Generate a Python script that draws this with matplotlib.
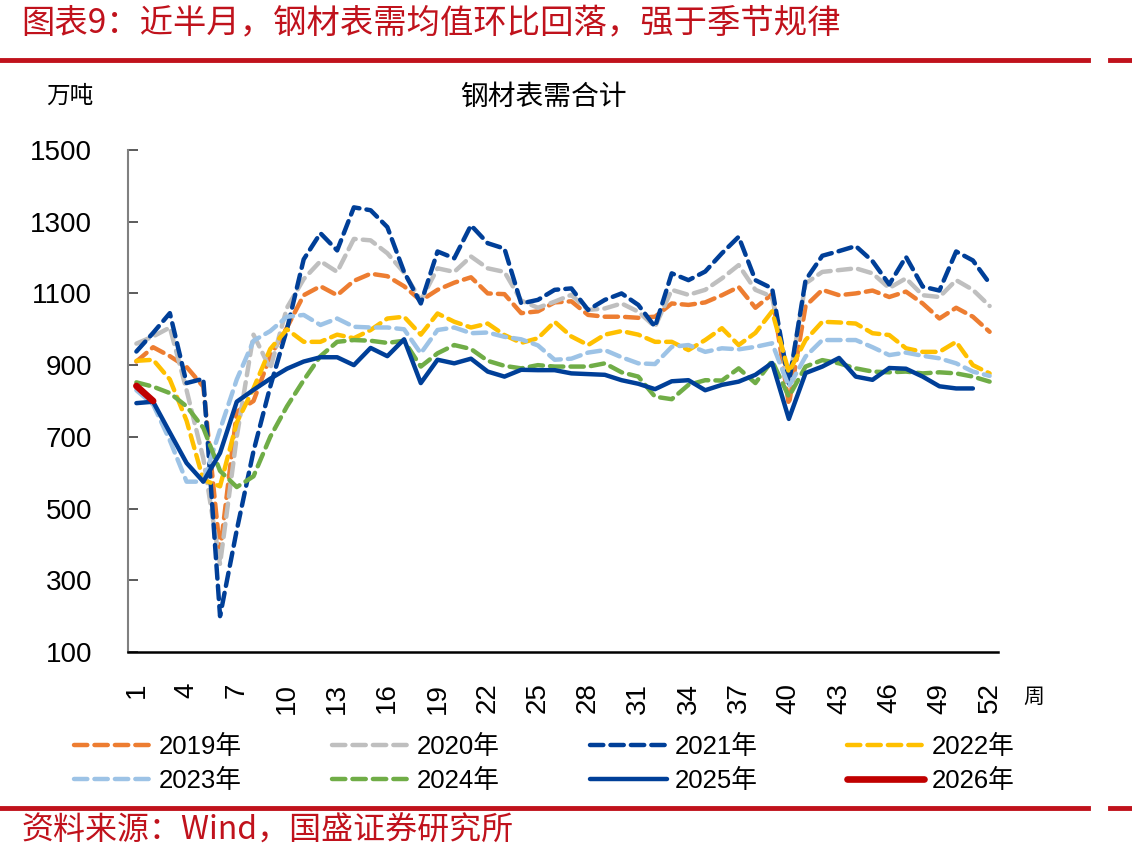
import numpy as np
import matplotlib
matplotlib.use("Agg")
import matplotlib.pyplot as plt
from matplotlib.lines import Line2D

plt.rcParams['font.family'] = ['Liberation Sans', 'Noto Sans CJK SC', 'DejaVu Sans']

# 周度钢材表需（万吨），按周 1..52
weeks = list(range(1, 53))
y2019 = [910, 950, 925, 895, 840, 380, 770, 800, 925, 1005, 1095, 1120, 1095, 1135, 1155, 1148, 1120, 1080,
         1110, 1130, 1145, 1100, 1098, 1045, 1050, 1075, 1078, 1040, 1035, 1035, 1032, 1035, 1072, 1068, 1075,
         1095, 1118, 1060, 1098, 790, 1065, 1110, 1095, 1100, 1108, 1090, 1105, 1072, 1030, 1060, 1035, 993]
y2020 = [960, 980, 1005, 830, 640, 345, 700, 985, 890, 1060, 1140, 1190, 1160, 1252, 1248, 1212, 1158, 1080,
         1170, 1160, 1203, 1170, 1160, 1080, 1060, 1077, 1096, 1054, 1058, 1072, 1049, 1007, 1110, 1096, 1110,
         1142, 1179, 1110, 1091, 849, 1128, 1160, 1165, 1170, 1156, 1115, 1142, 1095, 1090, 1137, 1110, 1065]
y2021 = [938, 990, 1045, 850, 862, 200, 440, 660, 840, 1000, 1195, 1268, 1220, 1340, 1332, 1285, 1160, 1072,
         1217, 1198, 1290, 1240, 1225, 1072, 1082, 1110, 1114, 1054, 1082, 1100, 1068, 1007, 1156, 1137, 1161,
         1212, 1258, 1137, 1114, 849, 1137, 1205, 1218, 1232, 1190, 1125, 1202, 1119, 1108, 1217, 1192, 1128]
y2022 = [912, 915, 860, 745, 580, 562, 740, 835, 945, 1000, 965, 965, 985, 975, 998, 1030, 1035, 985,
         1044, 1021, 1005, 1016, 984, 962, 975, 1021, 980, 956, 985, 995, 985, 965, 965, 942, 970,
         1003, 956, 990, 1050, 880, 970, 1021, 1019, 1016, 989, 984, 947, 937, 937, 965, 900, 877]
y2023 = [830, 790, 690, 575, 575, 720, 860, 968, 995, 1035, 1040, 1012, 1030, 1007, 1005, 1005, 1000, 933,
         998, 1005, 989, 991, 979, 972, 955, 915, 918, 935, 942, 922, 905, 903, 951, 956, 937,
         947, 944, 951, 961, 840, 924, 970, 970, 970, 950, 928, 935, 926, 919, 905, 882, 870]
y2024 = [852, 840, 822, 785, 725, 605, 560, 590, 700, 785, 858, 925, 965, 970, 968, 962, 968, 896,
         933, 956, 945, 912, 898, 891, 900, 896, 896, 896, 905, 880, 868, 812, 805, 845, 858,
         857, 891, 850, 912, 812, 896, 914, 905, 891, 882, 880, 882, 877, 880, 877, 868, 854]
y2025 = [794, 798, 712, 627, 575, 655, 798, 831, 862, 890, 910, 922, 922, 900, 948, 925, 972, 850,
         915, 905, 918, 882, 868, 887, 886, 886, 877, 875, 873, 858, 848, 833, 855, 858, 830,
         845, 854, 873, 906, 750, 878, 896, 920, 868, 859, 892, 890, 868, 841, 835, 835]
y2026 = [842, 800]

series = [
    ('2019年', y2019, '#ED7D31', '--', 3.2),
    ('2020年', y2020, '#BFBFBF', '--', 3.2),
    ('2021年', y2021, '#003F98', '--', 3.2),
    ('2022年', y2022, '#FFC000', '--', 3.2),
    ('2023年', y2023, '#9DC3E6', '--', 3.2),
    ('2024年', y2024, '#70AD47', '--', 3.2),
    ('2025年', y2025, '#003F98', '-', 3.2),
    ('2026年', y2026, '#C00000', '-', 4.8),
]

red = '#C0121C'
fig = plt.figure(figsize=(11.32, 8.63), dpi=100)
ax = fig.add_axes([0.1131, 0.2445, 0.7685, 0.5817])

handles = []
for name, vals, col, ls, lw in series:
    x = weeks[:len(vals)]
    if ls == '--':
        h, = ax.plot(x, vals, color=col, lw=lw, dashes=(3.0, 1.6), dash_capstyle='round', label=name)
    else:
        h, = ax.plot(x, vals, color=col, lw=lw, solid_capstyle='round', label=name)
    handles.append(h)

ax.set_xlim(0.5, 52.5)
ax.set_ylim(100, 1500)
ax.set_yticks(range(100, 1501, 200))
ax.set_xticks(weeks[::3])
ax.set_xticklabels([str(w) for w in weeks[::3]], rotation=90)
ax.tick_params(axis='x', length=0, pad=22, labelsize=20)
ax.tick_params(axis='y', direction='in', length=7, width=1.2, labelsize=20, pad=26, color='#404040')
for s in ['top', 'right']:
    ax.spines[s].set_visible(False)
ax.spines['left'].set_color('#808080')
ax.spines['left'].set_linewidth(1.5)
ax.spines['bottom'].set_color('#000000')
ax.spines['bottom'].set_linewidth(1.8)

# 图例按行排列：列优先填充，所以重新排序
order = [0, 4, 1, 5, 2, 6, 3, 7]
fig.legend([handles[i] for i in order], [series[i][0] for i in order],
           loc='center', bbox_to_anchor=(0.481, 0.115), ncol=4, frameon=False, fontsize=18.5,
           handlelength=3.0, handletextpad=0.3, columnspacing=3.5, labelspacing=0.4)

# 标题与红线
fig.text(0.019, 0.973, '图表9：近半月，钢材表需均值环比回落，强于季节规律', color=red, fontsize=24,
         family=['Noto Sans CJK SC'], va='center', ha='left')
fig.add_artist(Line2D([0, 0.961], [0.930, 0.930], color=red, lw=3.5))
fig.add_artist(Line2D([0.981, 1.0], [0.930, 0.930], color=red, lw=3.5))
fig.add_artist(Line2D([0, 0.961], [0.064, 0.064], color=red, lw=3.5))
fig.add_artist(Line2D([0.981, 1.0], [0.064, 0.064], color=red, lw=3.5))
fig.text(0.019, 0.037, '资料来源：Wind，国盛证券研究所', color=red, fontsize=23,
         family=['Noto Sans CJK SC'], va='center', ha='left')

fig.text(0.062, 0.888, '万吨', fontsize=17, family=['Noto Sans CJK SC'], va='center', ha='center')
fig.text(0.480, 0.888, '钢材表需合计', fontsize=20, family=['Noto Sans CJK SC'], va='center', ha='center')
fig.text(0.913, 0.192, '周', fontsize=15, family=['Noto Sans CJK SC'], va='center', ha='center')

fig.savefig('out.png', dpi=100)
